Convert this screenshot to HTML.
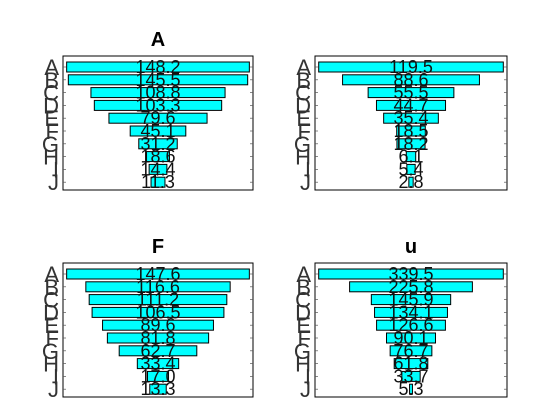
<!DOCTYPE html>
<html><head><meta charset="utf-8"><style>
body{margin:0;background:#fff;}
svg{display:block;font-family:"Liberation Sans",sans-serif;}
</style></head><body>
<svg id="c" width="560" height="420"></svg>
<script>
const categories=["A","B","C","D","E","F","G","H","I","J"];
const titles=["A","","F","u"];
const valuesA=[148.2,145.5,108.8,103.3,79.6,45.1,31.2,18.6,14.4,11.3];
const valuesB=[119.5,88.6,55.5,44.7,35.4,18.5,18.2,6.1,5.4,2.8];
const valuesF=[147.6,116.6,111.2,106.5,89.6,81.8,62.7,33.4,17.0,13.3];
const valuesU=[339.5,225.8,145.9,134.1,126.6,90.1,76.7,61.8,33.7,5.3];
const series=[valuesA,valuesB,valuesF,valuesU];
const NS="http://www.w3.org/2000/svg";
const svg=document.getElementById('c');
const boxes=[[63,56,253,190],[315,56,507,190],[63,263,253,397],[315,263,507,397]];
function mk(t,a,p){const e=document.createElementNS(NS,t);for(const k in a)e.setAttribute(k,a[k]);(p||svg).appendChild(e);return e;}
series.forEach((vals,pi)=>{
  const [x0,y0,x1,y1]=boxes[pi];
  const g=mk('g',{});
  
  
  const mx=Math.max(...vals)*1.04;
  const cx=(x0+x1)/2;
  const xs=v=>v/mx*(x1-x0);
  const ys=i=>y0+11+i*12.8;
  const ax=mk('rect',{x:x0,y:y0,width:x1-x0,height:y1-y0,fill:'#fff',stroke:'#000','stroke-width':1},g);
  
  
  if(titles[pi]){const t=mk('text',{x:cx,y:y0-10,'text-anchor':'middle','font-size':20,'font-weight':'bold'},g);t.textContent=titles[pi];
    
    }
  vals.forEach((v,i)=>{
    const w=xs(v),y=ys(i);
    const r=mk('rect',{x:cx-w/2,y:y-5,width:w,height:10,fill:'#00ffff',stroke:'#000','stroke-width':1},g);
    
    
    mk('line',{x1:x1,y1:y,x2:x1-3,y2:y,stroke:'#555','stroke-width':0.7},g);
    mk('line',{x1:x0,y1:y,x2:x0+3,y2:y,stroke:'#555','stroke-width':0.7},g);
    const t=mk('text',{x:cx,y:y+6,'text-anchor':'middle','font-size':18,fill:'#111'},g);
    t.textContent=v.toFixed(1);
    
    
    const l=mk('text',{x:x0-4,y:y+8,'text-anchor':'end','font-size':22,fill:'#333'},g);
    l.textContent=categories[i];
    
    
  });
});
</script>
</body></html>
